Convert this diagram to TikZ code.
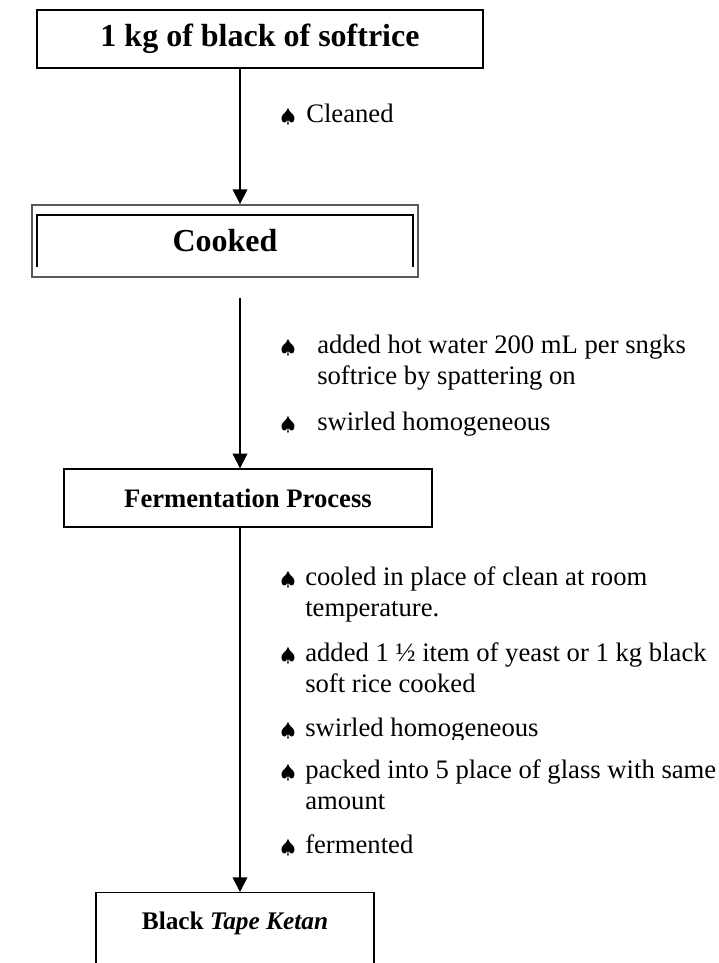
\documentclass[tikz,border=0pt]{standalone}
\usepackage{fontspec}
\setmainfont{Liberation Serif}
\usetikzlibrary{arrows.meta,calc,positioning}

\begin{document}
\begin{tikzpicture}[x=0.75pt,y=-0.75pt,
  box/.style={rectangle,draw,line width=1pt,inner sep=0pt,font=\bfseries\fontsize{24}{28}\selectfont},
  flow/.style={line width=1.2pt,-{Triangle[length=11pt,width=11pt]}},
  note/.style={anchor=base west,align=left,inner sep=0pt,font=\fontsize{20}{23}\selectfont},
  spade/.style={anchor=base,inner sep=0pt,font=\fontsize{12}{12}\selectfont}]
\useasboundingbox (0,0) rectangle (718,963);
\coordinate (spine) at (240,0);

% the four steps
\node [box,minimum width=334.5pt,minimum height=43.5pt] (source) at (260,39) {1 kg of black of softrice};
\node [box,draw=black!65,line width=1.4pt,minimum width=289.5pt,minimum height=54pt] (cooked) at (225,241) {Cooked};
\node [box,font=\bfseries\fontsize{20}{24}\selectfont,minimum width=276pt,minimum height=43.5pt] (ferm) at (248,498) {Fermentation Process};
\node [box,anchor=north,minimum width=208.5pt,minimum height=90pt] (ketan) at (235,892) {};
\node [inner sep=0pt,font=\bfseries\fontsize{19}{23}\selectfont] (ketantext) at (235,923) {Black \textit{Tape Ketan}};

% inner frame of the cooked box
\draw [line width=1.5pt] ($(cooked.south west)+(6,-11)$) |- ($(cooked.north east)+(-6,11)$) -- ($(cooked.south east)+(-6,-11)$);

% connectors
\draw [flow] (source.south -| spine) -- (cooked.north -| spine);
\draw [flow,shorten <=15pt] (cooked.south -| spine) -- (ferm.north -| spine);
\draw [flow] (ferm.south -| spine) -- (ketan.north -| spine);

% notes (two-line notes sit on the baseline of their last line)
\node [spade] (s1) at (288,123) {\scalebox{1.2}{$\spadesuit$}};
\node [note] (n1) at (306,123) {Cleaned};

\node [spade] (s2) at (288,353) {\scalebox{1.2}{$\spadesuit$}};
\node [note] (n2) at (317,384) {added hot water 200 mL per sngks\\softrice by spattering on};
\node [spade] (s3) at (288,430) {\scalebox{1.2}{$\spadesuit$}};
\node [note] (n3) at (317,430) {swirled homogeneous};

\node [spade] (s4) at (288,585) {\scalebox{1.2}{$\spadesuit$}};
\node [note] (n4) at (305,616) {cooled in place of clean at room\\temperature.};
\node [spade] (s5) at (288,661) {\scalebox{1.2}{$\spadesuit$}};
\node [note] (n5) at (305,692) {added 1 ½ item of yeast or 1 kg black\\soft rice cooked};
\begin{scope}
  \clip (270,700) rectangle (718,739);
  \node [spade] (s6) at (288,736) {\scalebox{1.2}{$\spadesuit$}};
  \node [note] (n6) at (305,736) {swirled homogeneous};
\end{scope}
\node [spade] (s7) at (288,778) {\scalebox{1.2}{$\spadesuit$}};
\node [note] (n7) at (305,809) {packed into 5 place of glass with same\\amount};
\node [spade] (s8) at (288,853) {\scalebox{1.2}{$\spadesuit$}};
\node [note] (n8) at (305,853) {fermented};
\end{tikzpicture}
\end{document}
